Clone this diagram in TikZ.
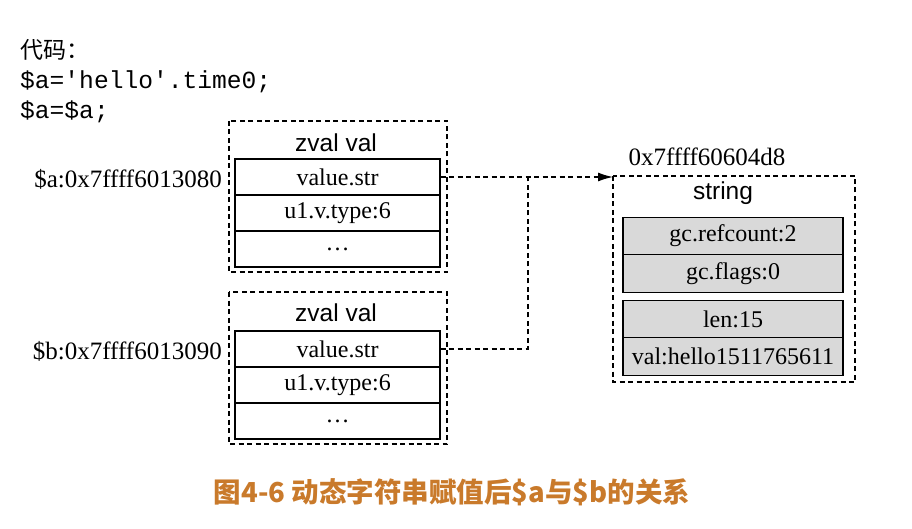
\documentclass[tikz,border=0pt]{standalone}
\usepackage{fontspec}
\setmainfont{Liberation Serif}
\newfontfamily\arialf{Liberation Sans}
\newfontfamily\monof{Liberation Mono}
\newfontfamily\cjkf{Noto Sans CJK SC}
\usetikzlibrary{arrows.meta}
\definecolor{capcol}{HTML}{C97A2B}
\definecolor{cellgray}{HTML}{D9D9D9}
\tikzset{
  outerbox/.style={draw, line width=1.3pt, dash pattern=on 5pt off 3.5pt},
  cell/.style={draw, line width=1.3pt, minimum height=36pt, inner sep=0pt, font=\fontsize{24}{26}\selectfont},
  zcell/.style={cell, minimum width=205pt},
  scell/.style={cell, fill=cellgray, minimum width=220pt, minimum height=37.5pt},
  ttl/.style={font=\arialf\fontsize{24.5}{26}\selectfont, inner sep=0pt},
  lbl/.style={font=\fontsize{25}{27}\selectfont, inner sep=0pt},
  codef/.style={font=\monof\fontsize{24.6}{26}\selectfont, inner sep=0pt, anchor=west},
  conn/.style={line width=1.3pt, dash pattern=on 5pt off 3.5pt}
}
\begin{document}
\begin{tikzpicture}[x=1pt,y=-1pt]
\useasboundingbox (0,0) rectangle (912,529);
% code
\node[codef, font=\cjkf\fontsize{23}{26}\selectfont] (c0) at (20,50) {代码：};
\node[codef] (c1) at (20,82) {\$a='hello'.time0;};
\node[codef] (c2) at (20,112) {\$a=\$a;};
% upper zval
\draw[outerbox] (229,121) rectangle (447,272);
\node[ttl] (ta) at (336,143) {zval val};
\node[zcell] (a1) at (337.5,177) {value.str};
\node[zcell] (a2) at (337.5,213) {u1.v.type:6};
\node[zcell] (a3) at (337.5,249) {\ldots};
\node[lbl, anchor=east] (la) at (222,179) {\$a:0x7ffff6013080};
% lower zval
\draw[outerbox] (229,292) rectangle (447,444);
\node[ttl] (tb) at (336,313) {zval val};
\node[zcell] (b1) at (337.5,349) {value.str};
\node[zcell] (b2) at (337.5,385) {u1.v.type:6};
\node[zcell] (b3) at (337.5,421) {\ldots};
\node[lbl, anchor=east] (lb) at (222,351) {\$b:0x7ffff6013090};
% string
\draw[outerbox] (613,176) rectangle (855,382);
\node[lbl] (addr) at (707,157) {0x7ffff60604d8};
\node[ttl] (ts) at (723,193) {string};
\node[scell] (s1) at (733,236) {gc.refcount:2};
\node[scell] (s2) at (733,273.5) {gc.flags:0};
\node[scell] (s3) at (733,319) {len:15};
\node[scell] (s4) at (733,356.5) {val:hello1511765611};
\coordinate (tgt) at (613,177);
\coordinate (bend) at (528,349);
\coordinate (join) at (528,177);
\draw[conn, -{Latex[length=15pt,width=9pt]}] (a1.east) -- (tgt);
\draw[conn] (b1.east) -- (bend) -- (join);
% caption
\node[font=\cjkf\bfseries\fontsize{27.5}{30}\selectfont, text=capcol, inner sep=0pt] (cap) at (452,492) {图4-6 动态字符串赋值后\$a与\$b的关系};
\end{tikzpicture}
\end{document}
